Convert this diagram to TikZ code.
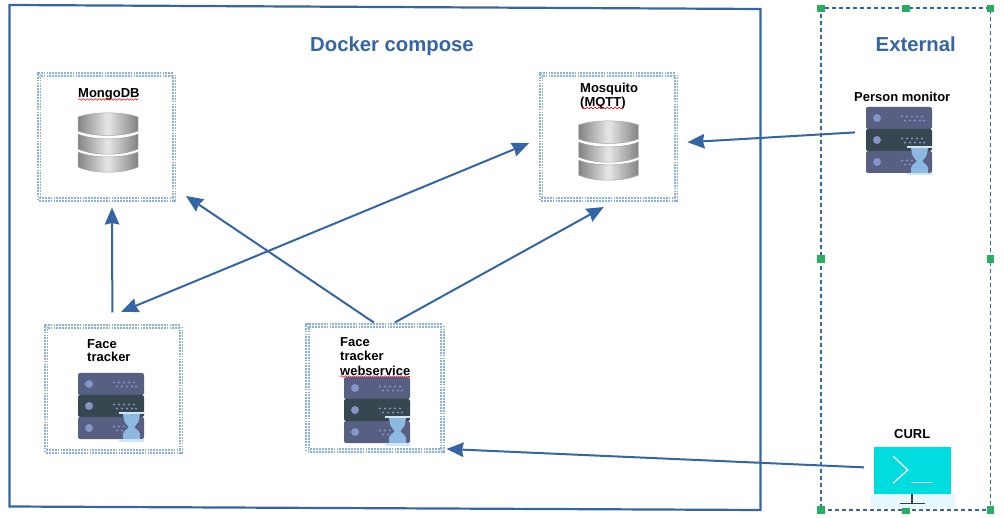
\documentclass[tikz,border=0pt]{standalone}
\usepackage{fontspec}
\setmainfont{Liberation Sans}
\usetikzlibrary{arrows.meta,decorations.pathmorphing}

\definecolor{linkblue}{HTML}{3465A4}
\definecolor{dotblue}{HTML}{8AB0DE}
\definecolor{handlegreen}{HTML}{27AE60}
\definecolor{rowlight}{HTML}{575F82}
\definecolor{rowdark}{HTML}{37474F}
\definecolor{rowdot}{HTML}{8595C9}
\definecolor{glassblue}{HTML}{8DB8E0}
\definecolor{glassbar}{HTML}{CFE6F5}
\definecolor{termcyan}{HTML}{00DDE0}

\def\dbsliceone{(0,4) -- (0,18) .. controls (15,24) and (45,24) .. (60,18) -- (60,4) .. controls (45,-1.5) and (15,-1.5) .. (0,4) -- cycle}
\def\dbslicetwo{(0,21) -- (0,36) .. controls (15,43) and (45,43) .. (60,36) -- (60,21) .. controls (45,27.5) and (15,27.5) .. (0,21) -- cycle}
\def\dbslicethree{(0,39) -- (0,54) .. controls (15,61) and (45,61) .. (60,54) -- (60,39) .. controls (45,45.5) and (15,45.5) .. (0,39) -- cycle}

\tikzset{
  groupbox/.style={draw=linkblue, line width=2.2pt},
  servicebox/.style={draw=dotblue, line width=1.8pt, double=white, double distance=.9pt,
    dash pattern=on 1.8pt off 1.1pt, minimum width=135pt, minimum height=125pt,
    inner sep=0pt, outer sep=0pt},
  iconbox/.style={minimum width=66pt, minimum height=66pt, inner sep=0pt, outer sep=0pt},
  termbox/.style={fill=termcyan, minimum width=77pt, minimum height=47pt, inner sep=0pt, outer sep=0pt},
  extbox/.style={draw=linkblue, line width=1.7pt, dash pattern=on 4pt off 3pt,
    minimum width=169.5pt, minimum height=502pt, inner sep=0pt, outer sep=0pt},
  link/.style={draw=linkblue, line width=2pt},
  tipped/.style={-{Stealth[length=17pt,width=14.5pt,inset=1.5pt]}},
  bothtipped/.style={{Stealth[length=17pt,width=14.5pt,inset=1.5pt]}-{Stealth[length=17pt,width=14.5pt,inset=1.5pt]}},
  title/.style={font=\bfseries\fontsize{20.3}{24}\selectfont, text=linkblue, inner sep=0pt, anchor=base west},
  tag/.style={font=\bfseries\fontsize{13}{14.5}\selectfont, align=left, inner sep=0pt, anchor=north west},
  squiggle/.style={draw=red, line width=.6pt, decorate, decoration={snake, amplitude=.8pt, segment length=4pt}},
  handle/.style={fill=handlegreen, minimum size=7.5pt, inner sep=0pt},
  dbedge/.style={draw=black!35, line width=.5pt},
  % icon origin is its top left corner
  serverstack/.pic={
    \foreach \rowy/\rowcol in {0/rowlight, 22/rowdark, 44/rowlight} {
      \fill[\rowcol, rounded corners=2pt] (0,\rowy) rectangle (66,\rowy+22);
      \fill[rowdot] (11,\rowy+11) circle (4);
    }
    \foreach \rowy in {0,22} {
      \foreach \dotx in {36,41,46,51,56} \fill[rowdot] (\dotx,\rowy+9.5) circle (1.2);
      \foreach \dotx in {39,44,49,54,58} \fill[rowdot] (\dotx,\rowy+13.5) circle (1.2);
    }
    \foreach \dotx in {36,41,46} \fill[rowdot] (\dotx,53.5) circle (1.2);
    \foreach \dotx in {39,44} \fill[rowdot] (\dotx,57.5) circle (1.2);
    \fill[glassblue] (45,41) -- (62,41) -- (61,47) .. controls (60,51) and (57,52) .. (56.5,54)
      .. controls (57,56) and (61,57) .. (62,61) -- (62,66) -- (45,66) -- (45,61)
      .. controls (46,57) and (50,56) .. (50.5,54) .. controls (50,52) and (47,51) .. (46,47) -- cycle;
    \fill[glassbar] (41,39) rectangle (66,41);
    \fill[glassbar] (41,66) rectangle (66,68.5);
  },
  dbstack/.pic={
    \foreach \slice in {\dbsliceone,\dbslicetwo,\dbslicethree} {
      \begin{scope}
        \clip \slice;
        \foreach \stripx in {0,2,...,58} {
          \pgfmathsetmacro{\greypct}{int(10+38*abs(\stripx-29)/29)}
          \fill[black!\greypct] (\stripx,-5) rectangle (\stripx+2.3,70);
        }
      \end{scope}
      \draw[dbedge] \slice;
    }
  }
}

\begin{document}
\begin{tikzpicture}[x=1pt,y=-1pt]
  \useasboundingbox (0,0) rectangle (1004,518);

  % docker side
  \draw[groupbox] (9.5,5) -- (760.5,9) -- (760.5,510) -- (9.5,506.5) -- cycle;
  \node[title] (composetitle) at (310,52) {Docker compose};

  \node[servicebox] (mongobox) at (106.5,137) {};
  \node[servicebox] (mosquitobox) at (608.5,137) {};
  \node[servicebox] (trackerbox) at (113.5,389) {};
  \node[servicebox] (webbox) at (375,388) {};

  \node[tag] (mongotag) at (78,88.4) {MongoDB};
  \node[tag] (mosquitotag) at (580,82.7) {Mosquito\\(MQTT)};
  \node[tag] (trackertag) at (87,338.9) {Face\\[-1pt]tracker};
  \node[tag] (webtag) at (340,337.2) {Face\\tracker\\webservice};

  \draw[squiggle] (78,99.5) -- (138,99.5);
  \draw[squiggle] (582,108) -- (623,108);
  \draw[squiggle] (340,376.5) -- (410,376.5);

  \pic at (78,113) {dbstack};
  \pic at (578.5,121) {dbstack};
  \pic at (78,373) {serverstack};
  \pic at (344,377) {serverstack};

  % external side
  \node[extbox] (extbox) at (905.75,259) {};
  \foreach \handx/\handy in {821/8.5, 906/8.5, 990.5/8.5, 821/259, 990.5/259, 821/510, 906/510, 990.5/510}
    \node[handle] at (\handx,\handy) {};
  \node[title] (exttitle) at (875.5,52) {External};

  \node[tag] (monitortag) at (854,91.7) {Person monitor};
  \node[iconbox] (monitorbox) at (899,140) {};
  \pic at (866,107) {serverstack};

  \node[tag] (curltag) at (894,429.7) {CURL};
  \fill[cyan!10] (871,494) rectangle (955,508);
  \node[termbox] (curlbox) at (912.5,470.5) {};
  \draw[white, line width=1.3pt] (893,456) -- (907.7,470) -- (893,483.3);
  \draw[white, line width=1.3pt] (911,482.5) -- (932,482.5);
  \draw[black!75, line width=1.3pt] (912,494) -- (912,503.5);
  \draw[black!75, line width=1.6pt] (900,503.5) -- (925,503.5);

  % links
  \draw[link,tipped,shorten <=14pt,shorten >=8pt] (trackerbox.91.3) -- (mongobox.-85);
  \draw[link,bothtipped,shorten <=38.5pt,shorten >=13pt] (trackerbox.114) -- (mosquitobox.181.3);
  \draw[link,tipped,shorten <=5.4pt,shorten >=14.4pt] (webbox.87.7) -- (mongobox.-37.1);
  \draw[link,tipped,shorten <=6.2pt,shorten >=15.5pt] (webbox.77.9) -- (mosquitobox.-82.7);
  \draw[link,tipped,shorten <=11pt,shorten >=11.5pt] (monitorbox.166.9) -- (mosquitobox.-5.7);
  \draw[link,tipped,shorten <=10pt,shorten >=4pt] (curlbox.176.9) -- (webbox.-42.7);
\end{tikzpicture}
\end{document}
